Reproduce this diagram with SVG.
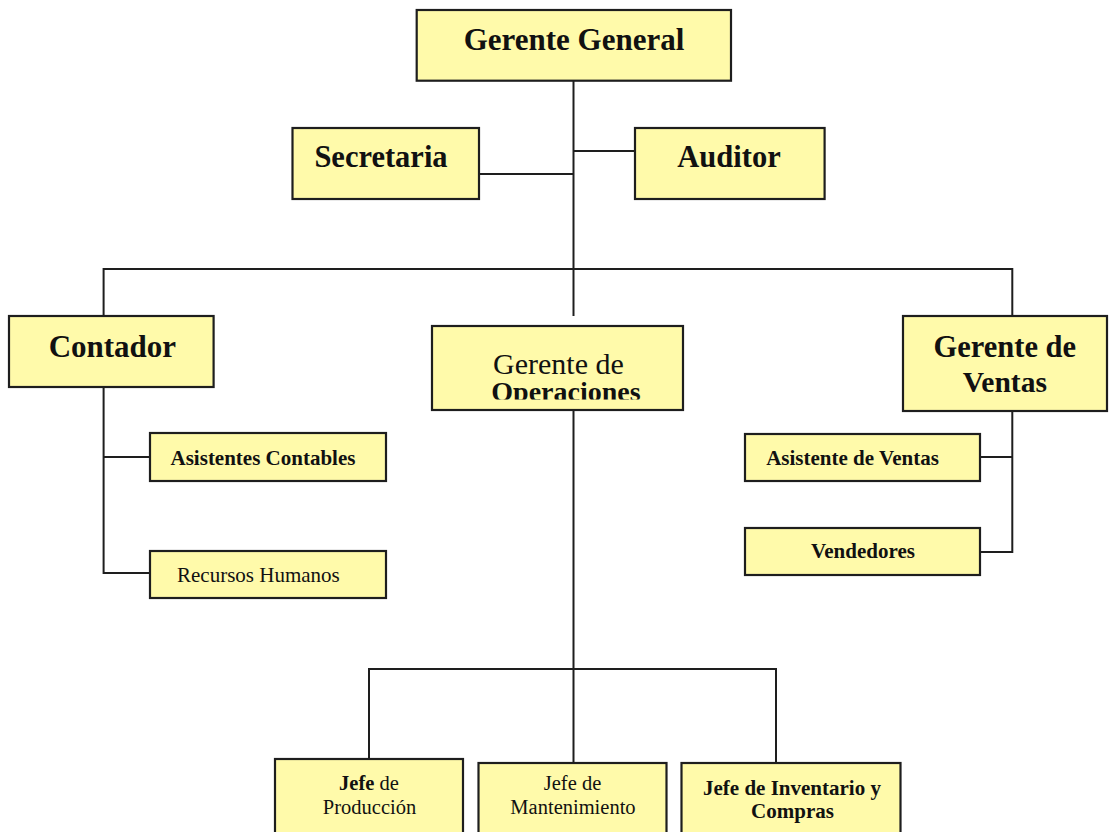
<svg xmlns="http://www.w3.org/2000/svg" width="1110" height="832" viewBox="0 0 1110 832">
<style>
.box{fill:#FFFAAA;stroke:#1e1e1e;stroke-width:2.2}
.ln{stroke:#1e1e1e;stroke-width:2;fill:none}
text{font-family:"Liberation Serif","Times New Roman",serif;fill:#111;text-anchor:middle}
.b{font-weight:bold}
.t30{font-size:30.5px}
.t21{font-size:21px}
.t20{font-size:20.5px}
</style>
<defs>
<clipPath id="opclip"><rect x="433" y="327" width="250" height="72.5"/></clipPath>
</defs>
<rect width="1110" height="832" fill="#ffffff"/>
<g id="connectors">
<path class="ln" d="M573.5 80.7V316"/>
<path class="ln" d="M573.5 151H635"/>
<path class="ln" d="M479 174H573.5"/>
<path class="ln" d="M103.6 316V269H1012.3V316"/>
<path class="ln" d="M103.6 387V573H150"/>
<path class="ln" d="M103.6 457H150"/>
<path class="ln" d="M1012.3 411V552H980"/>
<path class="ln" d="M1012.3 457H980"/>
<path class="ln" d="M573.5 410V763"/>
<path class="ln" d="M369 759V669H776V763"/>
</g>
<g id="gerente-general">
<rect class="box" x="416.7" y="10" width="314.3" height="70.7"/>
<text class="b" x="574" y="50" font-size="31">Gerente General</text>
</g>
<g id="secretaria">
<rect class="box" x="292.5" y="128" width="186.5" height="71"/>
<text class="b t30" x="381" y="167">Secretaria</text>
</g>
<g id="auditor">
<rect class="box" x="635" y="128" width="189.6" height="71"/>
<text class="b t30" x="729" y="167">Auditor</text>
</g>
<g id="contador">
<rect class="box" x="9" y="316" width="204.6" height="71"/>
<text class="b" x="112.4" y="357" font-size="31">Contador</text>
</g>
<g id="gerente-operaciones">
<rect class="box" x="432" y="326" width="251" height="84"/>
<text x="558.4" y="374" font-size="30">Gerente de</text>
<text class="b" x="566" y="401" font-size="28" clip-path="url(#opclip)">Operaciones</text>
</g>
<g id="gerente-ventas">
<rect class="box" x="903" y="316" width="204" height="95"/>
<text class="b t30" x="1004.8" y="357">Gerente de</text>
<text class="b" x="1004.8" y="392" font-size="29.5">Ventas</text>
</g>
<g id="asistentes-contables">
<rect class="box" x="150" y="433" width="236" height="48"/>
<text class="b t21" x="263" y="465">Asistentes Contables</text>
</g>
<g id="recursos-humanos">
<rect class="box" x="150" y="551" width="236" height="47"/>
<text class="t21" x="177" y="582" style="text-anchor:start">Recursos Humanos</text>
</g>
<g id="asistente-ventas">
<rect class="box" x="745" y="434" width="235" height="47"/>
<text class="b t21" x="852.5" y="465">Asistente de Ventas</text>
</g>
<g id="vendedores">
<rect class="box" x="745" y="528" width="235" height="47"/>
<text class="b t21" x="863" y="558">Vendedores</text>
</g>
<g id="jefe-produccion">
<rect class="box" x="275" y="759" width="188" height="100"/>
<text class="t20" x="369" y="790"><tspan font-weight="bold">Jefe</tspan> de</text>
<text class="t20" x="369.5" y="814">Producción</text>
</g>
<g id="jefe-mantenimiento">
<rect class="box" x="478.5" y="763" width="188" height="100"/>
<text class="t20" x="572.5" y="790">Jefe de</text>
<text class="t20" x="573" y="814">Mantenimiento</text>
</g>
<g id="jefe-inventario">
<rect class="box" x="681.5" y="763" width="219" height="100"/>
<text class="b t21" x="792" y="795">Jefe de Inventario y</text>
<text class="b t21" x="792.5" y="818">Compras</text>
</g>
</svg>
